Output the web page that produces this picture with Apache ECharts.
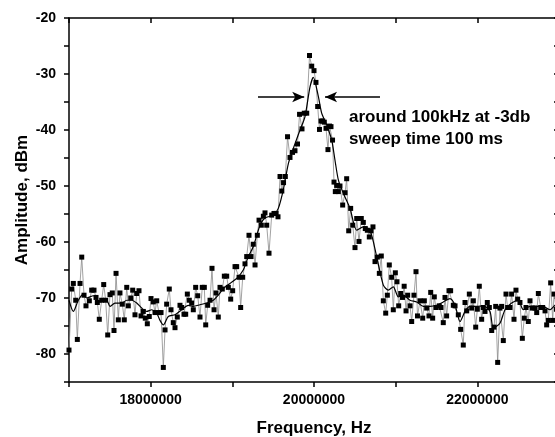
<!DOCTYPE html>
<html>
<head>
<meta charset="utf-8">
<script src="https://cdn.jsdelivr.net/npm/echarts@6/dist/echarts.min.js"></script>
<style>
  html, body { margin: 0; padding: 0; background: #fff; }
  #chart { width: 555px; height: 437px; }
</style>
</head>
<body>
<div id="chart"></div>
<script>
// measured sweep, frequency in MHz
var rawFreq = [
  17.000, 17.033, 17.053, 17.082, 17.102, 17.135, 17.156, 17.184, 17.208, 17.249,
  17.278, 17.306, 17.331, 17.347, 17.371, 17.400, 17.425, 17.449, 17.474, 17.502,
  17.530, 17.551, 17.576, 17.604, 17.624, 17.653, 17.677, 17.707, 17.726, 17.756,
  17.780, 17.808, 17.829, 17.857, 17.882, 17.910, 17.934, 17.959, 17.983, 18.004,
  18.032, 18.053, 18.074, 18.102, 18.127, 18.155, 18.176, 18.196, 18.228, 18.249,
  18.277, 18.298, 18.326, 18.359, 18.380, 18.408, 18.429, 18.449, 18.473, 18.502,
  18.522, 18.551, 18.576, 18.604, 18.632, 18.657, 18.674, 18.698, 18.727, 18.751,
  18.776, 18.800, 18.828, 18.849, 18.877, 18.902, 18.931, 18.951, 18.980, 19.004,
  19.033, 19.053, 19.082, 19.102, 19.127, 19.155, 19.176, 19.204, 19.229, 19.257,
  19.278, 19.306, 19.327, 19.355, 19.380, 19.400, 19.421, 19.449, 19.482, 19.510,
  19.535, 19.559, 19.584, 19.606, 19.627, 19.649, 19.676, 19.706, 19.737, 19.767,
  19.798, 19.823, 19.853, 19.881, 19.911, 19.945, 19.972, 20.000, 20.024, 20.045,
  20.067, 20.086, 20.107, 20.126, 20.147, 20.171, 20.190, 20.208, 20.227, 20.245,
  20.261, 20.278, 20.298, 20.318, 20.351, 20.380, 20.400, 20.425, 20.449, 20.474,
  20.502, 20.523, 20.551, 20.579, 20.604, 20.628, 20.653, 20.677, 20.698, 20.722,
  20.747, 20.775, 20.800, 20.824, 20.849, 20.878, 20.898, 20.922, 20.951, 20.971,
  20.996, 21.016, 21.037, 21.062, 21.084, 21.104, 21.127, 21.147, 21.176, 21.196,
  21.224, 21.249, 21.267, 21.298, 21.331, 21.351, 21.380, 21.408, 21.429, 21.453,
  21.473, 21.494, 21.534, 21.555, 21.583, 21.604, 21.624, 21.653, 21.673, 21.706,
  21.727, 21.767, 21.796, 21.828, 21.849, 21.870, 21.902, 21.931, 21.951, 21.980,
  22.000, 22.024, 22.053, 22.073, 22.094, 22.122, 22.147, 22.176, 22.204, 22.225,
  22.249, 22.277, 22.298, 22.318, 22.351, 22.371, 22.400, 22.420, 22.449, 22.473,
  22.494, 22.522, 22.551, 22.575, 22.596, 22.624, 22.645, 22.673, 22.706, 22.727,
  22.747, 22.776, 22.800, 22.829, 22.849, 22.869, 22.898, 22.923, 22.939, 22.969,
  22.994
];
var rawAmp = [
  -79.3, -68.4, -67.4, -70.4, -77.4, -67.4, -62.7, -69.5, -71.4, -70.5,
  -68.6, -68.6, -69.9, -70.8, -73.8, -70.4, -67.6, -70.4, -76.6, -69.4,
  -69.1, -75.8, -65.6, -73.9, -69.1, -71.1, -73.9, -68.1, -71.4, -70.0,
  -68.6, -73.0, -69.2, -68.7, -73.2, -72.4, -73.6, -74.6, -73.3, -70.1,
  -70.7, -72.6, -70.5, -72.6, -72.6, -82.4, -75.7, -71.1, -68.4, -72.1,
  -74.4, -75.3, -73.4, -71.3, -71.7, -72.9, -72.9, -69.3, -70.4, -70.9,
  -72.1, -68.1, -69.6, -73.4, -68.1, -68.1, -74.8, -71.3, -70.4, -64.7,
  -72.1, -69.1, -73.4, -68.1, -68.4, -66.1, -66.1, -68.1, -70.2, -68.7,
  -64.4, -64.4, -66.3, -71.7, -66.3, -63.9, -62.6, -58.8, -62.6, -60.4,
  -64.1, -58.8, -56.1, -57.0, -55.4, -54.8, -57.0, -62.0, -55.2, -54.9,
  -54.9, -55.5, -48.3, -50.9, -49.4, -48.3, -41.2, -44.9, -44.0, -43.7,
  -42.5, -37.2, -39.8, -37.0, -37.0, -26.7, -28.6, -29.4, -31.5, -35.8,
  -39.9, -38.4, -38.4, -38.6, -39.7, -43.5, -39.3, -39.4, -41.8, -49.3,
  -51.0, -49.9, -51.0, -50.0, -53.4, -51.2, -48.7, -58.0, -54.0, -57.0,
  -61.0, -55.8, -59.9, -55.8, -56.5, -57.6, -57.9, -59.1, -58.0, -57.3,
  -63.5, -62.7, -65.6, -62.5, -70.5, -72.7, -69.5, -64.1, -66.3, -72.1,
  -65.5, -67.1, -71.4, -69.2, -69.9, -67.9, -72.3, -69.5, -71.4, -74.2,
  -69.5, -65.3, -73.2, -70.5, -73.6, -70.5, -71.8, -73.2, -69.0, -73.6,
  -69.8, -71.7, -71.4, -71.7, -74.4, -69.9, -73.2, -68.7, -68.7, -71.3,
  -71.4, -73.0, -75.6, -78.4, -70.8, -72.3, -69.3, -71.8, -70.5, -75.2,
  -72.0, -67.9, -73.8, -71.7, -72.4, -70.8, -71.7, -75.8, -75.2, -71.5,
  -81.5, -71.8, -71.5, -77.6, -69.3, -71.7, -71.7, -69.3, -73.8, -68.6,
  -70.2, -70.8, -77.2, -73.6, -71.7, -74.2, -70.5, -71.8, -71.8, -72.6,
  -69.2, -71.7, -71.7, -72.3, -74.8, -74.0, -67.3, -74.0, -69.3, -72.0,
  -70.5
];
// smoothed curve
var smoothFreq = [
  17.000, 17.053, 17.114, 17.175, 17.217, 17.298, 17.380, 17.462, 17.502, 17.563,
  17.645, 17.707, 17.768, 17.829, 17.890, 17.951, 18.013, 18.074, 18.114, 18.155,
  18.216, 18.298, 18.380, 18.461, 18.522, 18.604, 18.686, 18.767, 18.828, 18.890,
  18.971, 19.053, 19.134, 19.196, 19.257, 19.339, 19.400, 19.502, 19.563, 19.624,
  19.686, 19.747, 19.829, 19.890, 19.951, 19.992, 20.053, 20.094, 20.155, 20.217,
  20.257, 20.298, 20.359, 20.441, 20.523, 20.604, 20.686, 20.767, 20.849, 20.910,
  20.971, 21.033, 21.094, 21.176, 21.257, 21.339, 21.420, 21.502, 21.583, 21.665,
  21.727, 21.788, 21.849, 21.910, 21.992, 22.073, 22.155, 22.196, 22.277, 22.339,
  22.420, 22.502, 22.563, 22.645, 22.727, 22.808, 22.890, 22.951, 23.000
];
var smoothAmp = [
  -70.4, -72.4, -70.4, -69.3, -70.0, -69.6, -70.7, -70.4, -71.5, -70.9,
  -70.9, -70.4, -70.4, -70.9, -71.8, -72.4, -72.1, -72.7, -74.0, -74.8,
  -73.3, -73.0, -72.1, -71.3, -71.5, -71.2, -70.9, -70.4, -69.5, -68.3,
  -67.4, -66.5, -65.0, -62.6, -60.8, -57.0, -55.7, -55.2, -54.0, -50.7,
  -46.0, -43.3, -40.0, -37.6, -32.3, -30.6, -34.0, -37.0, -39.1, -41.8,
  -45.4, -48.9, -51.3, -54.0, -57.9, -57.3, -57.9, -62.6, -67.7, -68.6,
  -68.0, -69.8, -69.5, -70.4, -70.7, -71.5, -71.5, -71.3, -70.7, -70.1,
  -71.3, -74.2, -72.4, -71.5, -71.5, -71.4, -72.4, -75.4, -74.5, -72.1,
  -70.9, -70.4, -72.1, -71.5, -71.5, -71.5, -72.1, -71.3, -71.0
];

var chartDom = document.getElementById("chart");
var myChart = echarts.init(chartDom);

var raw = rawFreq.map(function (f, i) { return [f * 1e6, rawAmp[i]]; });
var smooth = smoothFreq.map(function (f, i) { return [f * 1e6, smoothAmp[i]]; });

var font = "Liberation Sans";
var axisLine = { lineStyle: { color: "#000", width: 1.5 } };

var option = {
  animation: false,
  backgroundColor: "#fff",
  grid: { left: 69, top: 18, width: 490, height: 364, outerBoundsMode: "none" },
  xAxis: [
    {
      type: "value",
      min: 17000000,
      max: 23000000,
      interval: 1000000,
      axisLine: axisLine,
      axisTick: { length: 5, lineStyle: { color: "#000", width: 1.5 } },
      splitLine: { show: false },
      axisLabel: {
        margin: 11,
        color: "#000",
        fontFamily: font,
        fontWeight: "bold",
        fontSize: 14,
        formatter: function (v) { return v % 2000000 === 0 ? String(v) : ""; }
      },
      name: "Frequency, Hz",
      nameLocation: "middle",
      nameGap: 38,
      nameMoveOverlap: false,
      nameTextStyle: { color: "#000", fontFamily: font, fontWeight: "bold", fontSize: 17 }
    },
    {
      type: "value",
      position: "top",
      min: 17000000,
      max: 23000000,
      interval: 1000000,
      axisLine: axisLine,
      axisTick: { inside: true, length: 5, lineStyle: { color: "#000", width: 1.5 } },
      axisLabel: { show: false },
      splitLine: { show: false }
    }
  ],
  yAxis: [
    {
      type: "value",
      min: -85,
      max: -20,
      interval: 5,
      axisLine: axisLine,
      axisTick: { length: 5, lineStyle: { color: "#000", width: 1.5 } },
      splitLine: { show: false },
      axisLabel: {
        margin: 13,
        color: "#000",
        fontFamily: font,
        fontWeight: "bold",
        fontSize: 14,
        formatter: function (v) { return v % 10 === 0 ? String(v) : ""; }
      },
      name: "Amplitude, dBm",
      nameLocation: "middle",
      nameGap: 38,
      nameMoveOverlap: false,
      nameTextStyle: { color: "#000", fontFamily: font, fontWeight: "bold", fontSize: 17 }
    },
    {
      type: "value",
      position: "right",
      min: -85,
      max: -20,
      interval: 5,
      axisLine: axisLine,
      axisTick: { inside: true, length: 5, lineStyle: { color: "#000", width: 1.5 } },
      axisLabel: { show: false },
      splitLine: { show: false }
    }
  ],
  series: [
    {
      name: "raw",
      type: "line",
      data: raw,
      symbol: "rect",
      symbolSize: 5,
      itemStyle: { color: "#000" },
      lineStyle: { color: "#8a8a8a", width: 0.8 },
      emphasis: { disabled: true },
      z: 2
    },
    {
      name: "smoothed",
      type: "line",
      data: smooth,
      symbol: "none",
      smooth: 0.25,
      lineStyle: { color: "#000", width: 1.2 },
      emphasis: { disabled: true },
      z: 3,
      markLine: {
        silent: true,
        symbol: ["none", "arrow"],
        symbolSize: [8, 12],
        label: { show: false },
        lineStyle: { color: "#000", width: 1.5, type: "solid" },
        data: [
          [{ coord: [19314000, -34.1] }, { coord: [19880000, -34.1] }],
          [{ coord: [20808000, -34.1] }, { coord: [20135000, -34.1] }]
        ]
      }
    }
  ],
  graphic: [
    {
      type: "text",
      x: 349,
      y: 117,
      style: {
        text: "around 100kHz at -3db",
        font: "bold 17px 'Liberation Sans'",
        fill: "#000",
        verticalAlign: "middle"
      }
    },
    {
      type: "text",
      x: 349,
      y: 139,
      style: {
        text: "sweep time 100 ms",
        font: "bold 17px 'Liberation Sans'",
        fill: "#000",
        verticalAlign: "middle"
      }
    }
  ]
};

option && myChart.setOption(option);
</script>
</body>
</html>
